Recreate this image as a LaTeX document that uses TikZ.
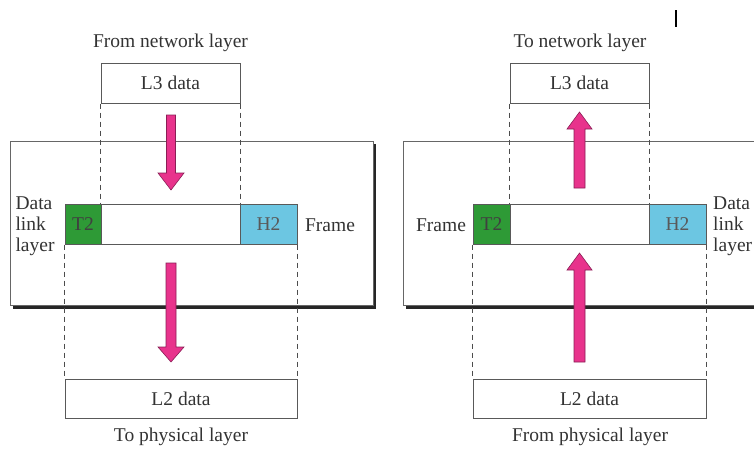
\documentclass[tikz,border=0pt]{standalone}
\usepackage{fontspec}
\setmainfont{Liberation Serif}
\definecolor{txt}{HTML}{333333}
\definecolor{pinkarrow}{HTML}{E8338C}
\definecolor{pinkedge}{HTML}{8A1E55}
\definecolor{trailer}{HTML}{2E9A36}
\definecolor{header}{HTML}{6CC6E2}
\begin{document}
\begin{tikzpicture}[x=1pt,y=-1pt,
  lbl/.style={text=txt,font=\fontsize{19.5}{21}\selectfont,inner sep=0pt},
  databox/.style={draw=black!65,line width=1pt,fill=white},
  guide/.style={draw=black!70,dashed,dash pattern=on 5pt off 4pt,line width=0.8pt},
  blockarrow/.style={fill=pinkarrow,draw=pinkedge,line width=0.6pt,line join=miter},
  layerbox/.style={draw=black!60,line width=1pt,fill=white},
  shadowbox/.style={fill=black!85,draw=none}]
\useasboundingbox (0,0) rectangle (754,450);

% ---------------- sending side ----------------
\fill[shadowbox] (13,144) rectangle (376,309);
\draw[layerbox] (10,141) rectangle (373,305);

\node[databox,minimum width=139pt,minimum height=40pt,inner sep=0pt] (l3a) at (170.5,83) {};
\node[lbl] at (l3a) {L3 data};
\node[lbl] (fromnet) at (170.5,43) {From network layer};

\node[draw=black!65,line width=1pt,fill=trailer,minimum width=36pt,minimum height=40pt,inner sep=0pt] (t2a) at (83,224) {};
\node[lbl,text=black!75] at (t2a) {T2};
\node[draw=black!65,line width=1pt,fill=white,minimum width=139pt,minimum height=40pt,inner sep=0pt] (pla) at (170.5,224) {};
\node[draw=black!65,line width=1pt,fill=header,minimum width=57pt,minimum height=40pt,inner sep=0pt] (h2a) at (268.5,224) {};
\node[lbl,text=black!65] at (h2a) {H2};
\node[lbl] (framea) at (330,225) {Frame};
\node[lbl,align=left] (dlla) at (35,226) {Data\\link\\layer};

\node[databox,minimum width=232pt,minimum height=39pt,inner sep=0pt] (l2a) at (181,398.5) {};
\node[lbl] at (l2a) {L2 data};
\node[lbl] (tophy) at (181,437) {To physical layer};

\draw[guide] (l3a.south west) -- (pla.north west);
\draw[guide] (l3a.south east) -- (pla.north east);
\draw[guide] (t2a.south west) -- (l2a.north west);
\draw[guide] (h2a.south east) -- (l2a.north east);

\draw[blockarrow] (166.5,115) -- (175.5,115) -- (175.5,173) -- (184,173) -- (171,190)
  -- (158,173) -- (166.5,173) -- cycle;
\draw[blockarrow] (166,263) -- (176,263) -- (176,347) -- (184,347) -- (171,362)
  -- (158,347) -- (166,347) -- cycle;

% ---------------- receiving side ----------------
\fill[shadowbox] (406,144) rectangle (760,309);
\draw[layerbox] (403,141) rectangle (760,305);

\node[databox,minimum width=139pt,minimum height=40pt,inner sep=0pt] (l3b) at (579.5,83) {};
\node[lbl] at (l3b) {L3 data};
\node[lbl] (tonet) at (580,43) {To network layer};

\node[draw=black!65,line width=1pt,fill=trailer,minimum width=37pt,minimum height=40pt,inner sep=0pt] (t2b) at (491.5,224) {};
\node[lbl,text=black!75] at (t2b) {T2};
\node[draw=black!65,line width=1pt,fill=white,minimum width=139pt,minimum height=40pt,inner sep=0pt] (plb) at (579.5,224) {};
\node[draw=black!65,line width=1pt,fill=header,minimum width=57pt,minimum height=40pt,inner sep=0pt] (h2b) at (677.5,224) {};
\node[lbl,text=black!65] at (h2b) {H2};
\node[lbl] (frameb) at (441,225) {Frame};
\node[lbl,align=left,anchor=west] (dllb) at (713,226) {Data\\link\\layer};

\node[databox,minimum width=233pt,minimum height=39pt,inner sep=0pt] (l2b) at (589.5,398.5) {};
\node[lbl] at (l2b) {L2 data};
\node[lbl] (fromphy) at (590,437) {From physical layer};

\draw[guide] (l3b.south west) -- (plb.north west);
\draw[guide] (l3b.south east) -- (plb.north east);
\draw[guide] (t2b.south west) -- (l2b.north west);
\draw[guide] (h2b.south east) -- (l2b.north east);

\draw[blockarrow] (574,188) -- (585,188) -- (585,129) -- (592,129) -- (579.5,112)
  -- (567,129) -- (574,129) -- cycle;
\draw[blockarrow] (574,362) -- (585,362) -- (585,270) -- (592,270) -- (579.5,253)
  -- (567,270) -- (574,270) -- cycle;

% small mark near the top edge
\draw[black,line width=1.2pt] (676,10) -- (676,27);
\end{tikzpicture}
\end{document}
